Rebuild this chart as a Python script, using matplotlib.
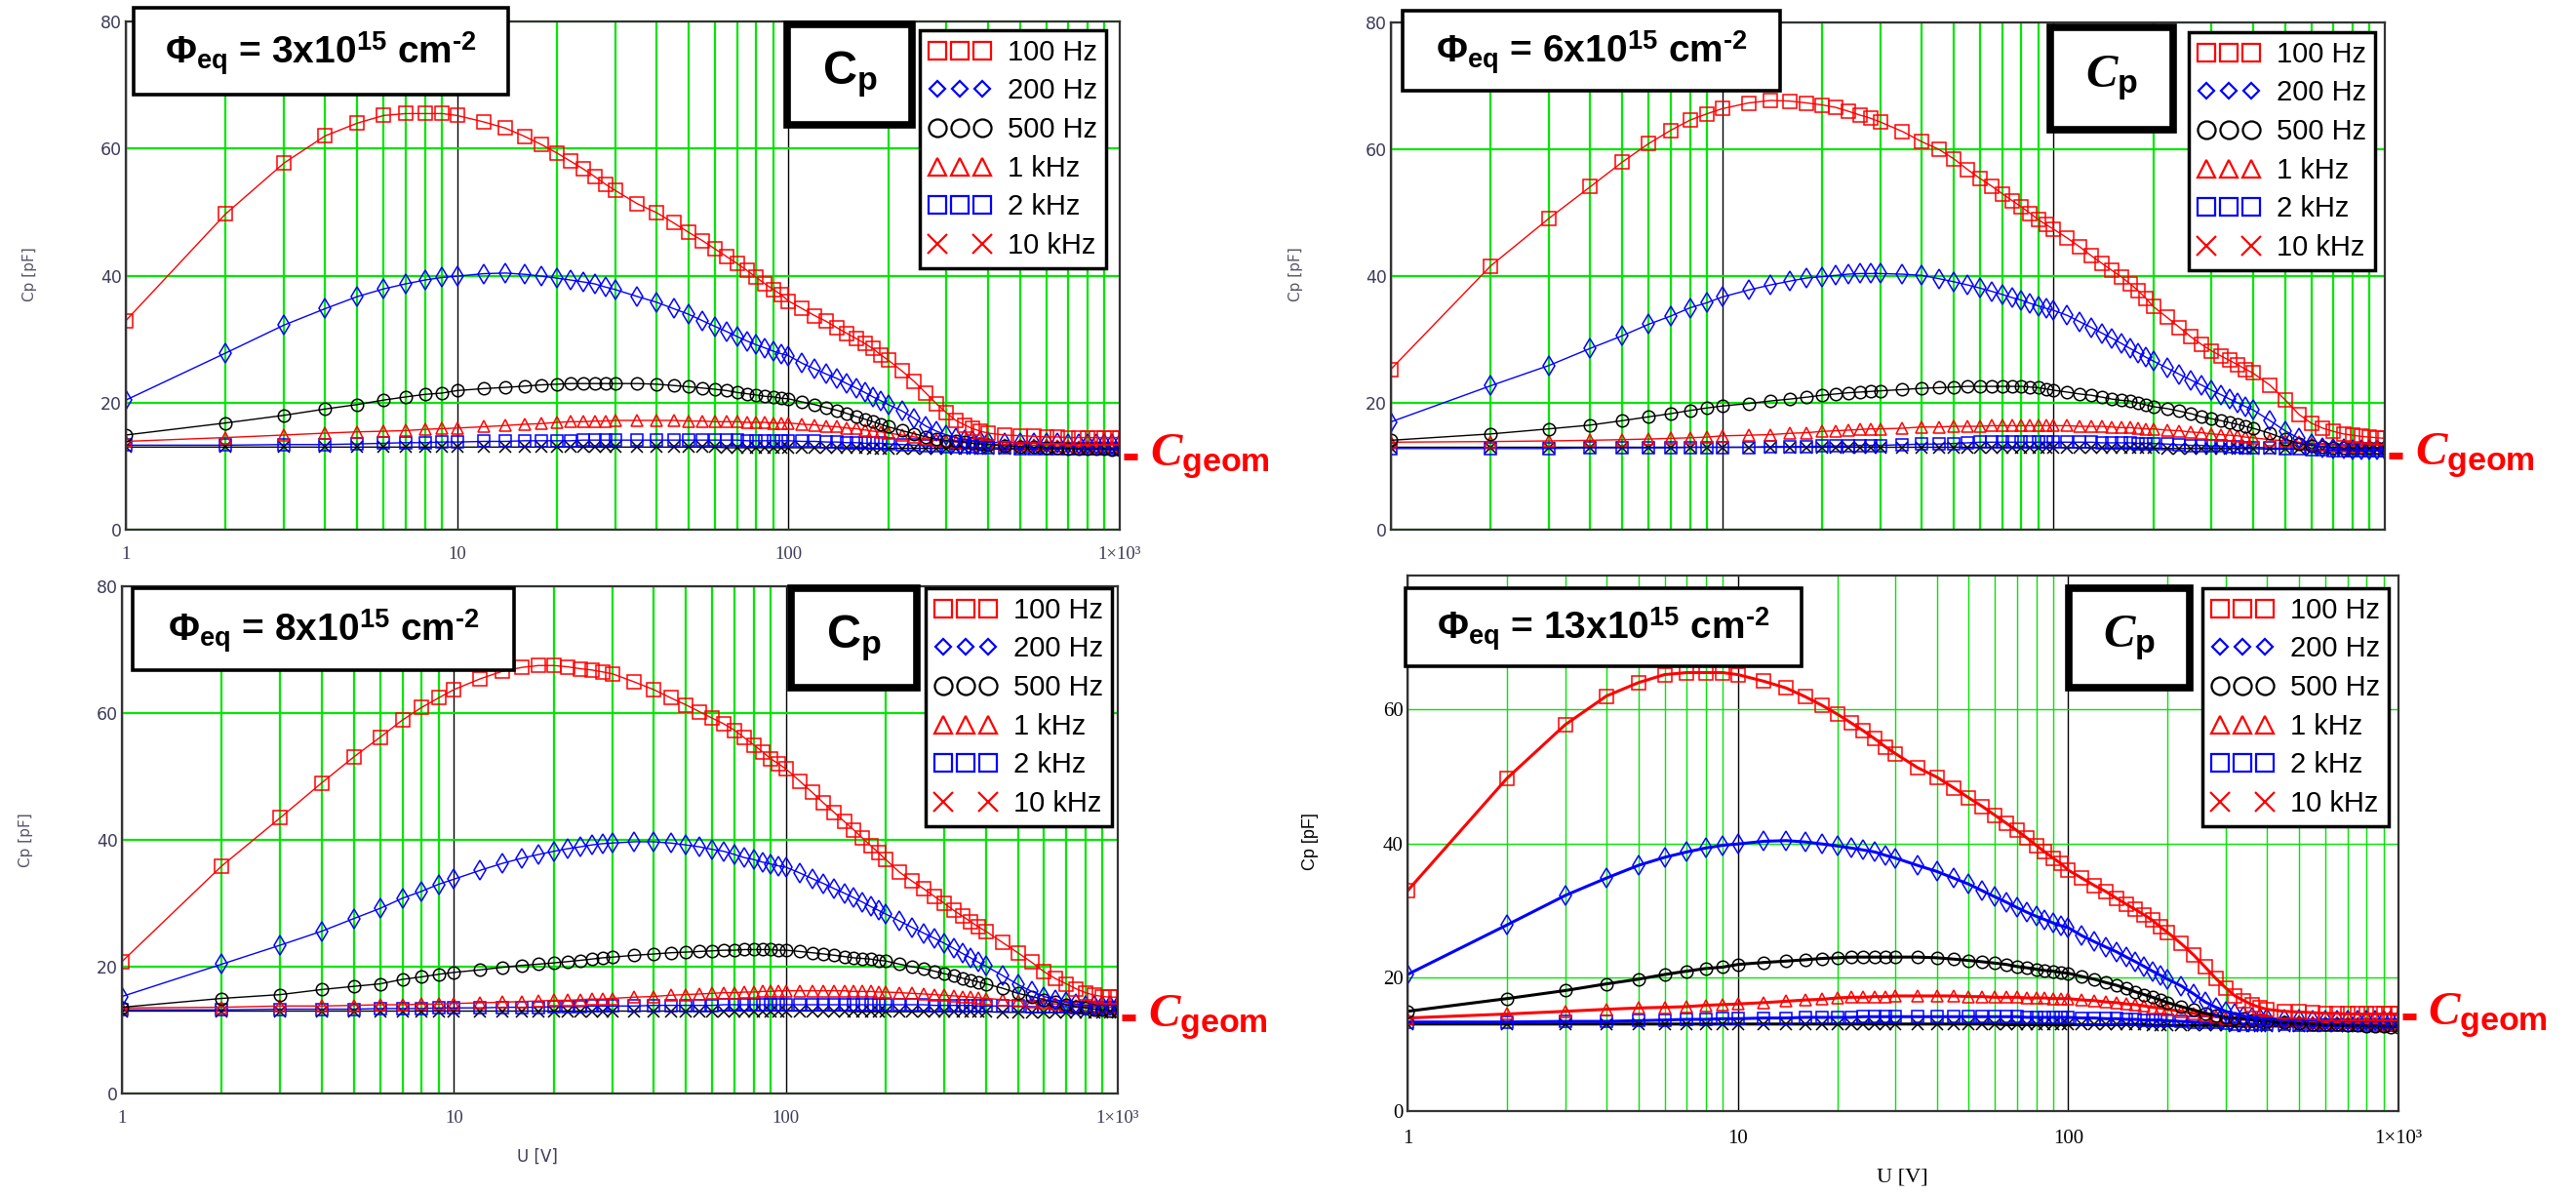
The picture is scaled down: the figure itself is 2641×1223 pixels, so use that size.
import matplotlib
matplotlib.use('Agg')
import matplotlib.pyplot as plt
import matplotlib.transforms as mtransforms
from matplotlib.lines import Line2D
from matplotlib.patches import Rectangle
from matplotlib.ticker import LogLocator, NullFormatter
from matplotlib.legend_handler import HandlerLine2D

plt.rcParams['mathtext.fontset'] = 'custom'
plt.rcParams['mathtext.rm'] = 'Liberation Sans'
plt.rcParams['mathtext.bf'] = 'Liberation Sans:bold'
plt.rcParams['mathtext.it'] = 'Liberation Serif:italic:bold'

# bias voltage [V]
U = [1, 2, 3, 4, 5, 6, 7, 8, 9, 10,
     12, 14, 16, 18, 20, 22, 24, 26, 28, 30,
     35, 40, 45, 50, 55, 60, 65, 70, 75, 80, 85, 90, 95, 100,
     110, 120, 130, 140, 150, 160, 170, 180, 190, 200,
     220, 240, 260, 280, 300, 320, 340, 360, 380, 400,
     450, 500, 550, 600, 650, 700, 750, 800, 850, 900, 950, 1000]

freqs = ['100 Hz', '200 Hz', '500 Hz', '1 kHz', '2 kHz', '10 kHz']

# Cp [pF], phi = 3e15 (same curves are shown again for 13e15)
a_100 = [32.9, 49.7, 57.7, 62.0, 64.0, 65.2, 65.5, 65.5, 65.5, 65.2,
         64.2, 63.2, 61.9, 60.6, 59.3, 58.0, 56.8, 55.6, 54.4, 53.4,
         51.3, 49.9, 48.3, 46.8, 45.5, 44.2, 43.0, 41.9, 40.8, 39.7, 38.7, 37.8, 37.0, 36.0,
         34.8, 33.7, 32.8, 31.8, 30.9, 30.1, 29.3, 28.5, 27.5, 26.7,
         25.0, 23.3, 21.5, 19.8, 18.4, 17.2, 16.5, 15.9, 15.5, 15.2,
         14.9, 14.8, 14.7, 14.6, 14.6, 14.5, 14.5, 14.5, 14.5, 14.5, 14.5, 14.5]
a_200 = [20.4, 27.8, 32.2, 34.8, 36.7, 37.9, 38.7, 39.3, 39.7, 39.9,
         40.3, 40.4, 40.2, 39.9, 39.6, 39.3, 39.0, 38.7, 38.2, 37.8,
         36.7, 35.8, 34.8, 33.9, 32.9, 32.0, 31.2, 30.4, 29.7, 29.1, 28.6, 28.1, 27.7, 27.4,
         26.2, 25.3, 24.5, 23.8, 23.0, 22.3, 21.6, 20.9, 20.3, 19.7,
         18.7, 17.5, 16.3, 15.5, 14.9, 14.5, 14.2, 14.0, 13.9, 13.8,
         13.7, 13.7, 13.6, 13.6, 13.6, 13.5, 13.5, 13.5, 13.5, 13.5, 13.5, 13.5]
a_500 = [14.9, 16.8, 18.0, 19.0, 19.7, 20.4, 20.9, 21.3, 21.5, 21.9,
         22.2, 22.4, 22.6, 22.8, 22.9, 23.0, 23.0, 23.0, 23.0, 23.0,
         23.0, 22.9, 22.7, 22.5, 22.3, 22.1, 21.9, 21.6, 21.4, 21.2, 21.0, 20.9, 20.7, 20.6,
         20.1, 19.7, 19.2, 18.8, 18.3, 17.8, 17.4, 17.0, 16.6, 16.2,
         15.6, 15.1, 14.6, 14.3, 14.0, 13.9, 13.8, 13.6, 13.5, 13.4,
         13.2, 13.1, 13.0, 12.9, 12.9, 12.8, 12.8, 12.7, 12.7, 12.7, 12.6, 12.6]
a_1k = [13.9, 14.5, 14.9, 15.2, 15.4, 15.5, 15.6, 15.8, 15.9, 16.0,
        16.2, 16.4, 16.6, 16.7, 16.9, 17.0, 17.0, 17.1, 17.1, 17.2,
        17.2, 17.2, 17.2, 17.1, 17.1, 17.0, 17.0, 17.0, 16.9, 16.9, 16.9, 16.8, 16.8, 16.8,
        16.6, 16.5, 16.3, 16.2, 16.0, 15.9, 15.7, 15.5, 15.4, 15.2,
        14.9, 14.6, 14.3, 14.1, 13.9, 13.8, 13.7, 13.6, 13.5, 13.5,
        13.4, 13.4, 13.3, 13.3, 13.2, 13.2, 13.1, 13.1, 13.1, 13.0, 13.0, 13.0]
a_2k = [13.3, 13.3, 13.4, 13.4, 13.5, 13.6, 13.7, 13.7, 13.8, 13.8,
        13.9, 13.9, 14.0, 14.0, 14.0, 14.0, 14.1, 14.1, 14.1, 14.1,
        14.1, 14.1, 14.1, 14.1, 14.1, 14.1, 14.1, 14.1, 14.0, 14.0, 14.0, 14.0, 14.0, 14.0,
        13.9, 13.9, 13.8, 13.8, 13.7, 13.7, 13.6, 13.6, 13.6, 13.5,
        13.4, 13.3, 13.2, 13.2, 13.1, 13.0, 13.0, 13.0, 12.9, 12.9,
        12.9, 12.8, 12.8, 12.8, 12.8, 12.8, 12.8, 12.8, 12.8, 12.8, 12.8, 12.8]
a_10k = [13.0, 13.0, 13.0, 13.0, 13.0, 13.0, 13.0, 13.0, 13.0, 13.0,
         13.0, 13.0, 13.0, 13.0, 13.0, 13.0, 13.0, 13.0, 13.0, 13.0,
         13.0, 13.0, 13.0, 13.0, 13.0, 13.0, 12.9, 12.9, 12.9, 12.9, 12.9, 12.9, 12.9, 12.9,
         12.9, 12.9, 12.9, 12.9, 12.9, 12.9, 12.9, 12.8, 12.8, 12.8,
         12.8, 12.8, 12.8, 12.8, 12.8, 12.7, 12.7, 12.7, 12.7, 12.7,
         12.7, 12.7, 12.7, 12.7, 12.7, 12.7, 12.7, 12.7, 12.7, 12.7, 12.7, 12.7]

# phi = 6e15
b_100 = [25.3, 41.6, 49.1, 54.1, 58.0, 60.9, 63.0, 64.6, 65.6, 66.4,
         67.3, 67.7, 67.6, 67.3, 67.0, 66.6, 66.0, 65.4, 64.9, 64.3,
         62.8, 61.2, 60.0, 58.5, 56.8, 55.4, 54.2, 53.0, 51.9, 50.9, 49.9, 48.9, 48.1, 47.4,
         46.0, 44.6, 43.2, 42.0, 40.9, 39.9, 38.8, 37.7, 36.5, 35.2,
         33.5, 31.9, 30.4, 29.2, 28.2, 27.4, 26.7, 26.0, 25.3, 24.7,
         22.8, 20.5, 18.2, 16.8, 16.0, 15.5, 15.1, 14.9, 14.7, 14.6, 14.5, 14.4]
b_200 = [17.0, 22.7, 25.9, 28.6, 30.6, 32.4, 33.7, 35.0, 35.8, 36.7,
         37.8, 38.6, 39.2, 39.7, 39.9, 40.1, 40.3, 40.4, 40.4, 40.4,
         40.3, 40.1, 39.6, 39.1, 38.6, 38.1, 37.6, 37.1, 36.6, 36.2, 35.7, 35.3, 34.9, 34.6,
         33.8, 32.8, 31.9, 31.0, 30.2, 29.4, 28.6, 27.9, 27.2, 26.6,
         25.5, 24.5, 23.6, 22.8, 22.0, 21.3, 20.6, 20.0, 19.4, 18.9,
         17.2, 15.6, 14.4, 13.5, 13.0, 12.8, 12.7, 12.6, 12.6, 12.6, 12.6, 12.6]
b_500 = [14.1, 15.1, 15.9, 16.5, 17.2, 17.8, 18.3, 18.8, 19.2, 19.5,
         19.9, 20.3, 20.6, 20.9, 21.2, 21.4, 21.6, 21.7, 21.8, 21.9,
         22.1, 22.3, 22.4, 22.5, 22.6, 22.6, 22.6, 22.6, 22.6, 22.6, 22.5, 22.4, 22.2, 22.0,
         21.7, 21.4, 21.2, 20.9, 20.6, 20.4, 20.3, 20.0, 19.7, 19.4,
         19.1, 18.7, 18.3, 17.8, 17.5, 17.2, 16.9, 16.6, 16.3, 16.0,
         15.2, 14.3, 13.6, 13.3, 13.1, 13.0, 12.9, 12.9, 12.9, 12.9, 12.9, 12.9]
b_1k = [13.8, 13.9, 14.0, 14.1, 14.2, 14.3, 14.4, 14.5, 14.6, 14.8,
        14.9, 15.0, 15.2, 15.3, 15.5, 15.6, 15.7, 15.8, 15.9, 15.9,
        16.0, 16.2, 16.2, 16.3, 16.3, 16.3, 16.4, 16.4, 16.4, 16.4, 16.4, 16.4, 16.4, 16.4,
        16.4, 16.3, 16.3, 16.3, 16.2, 16.1, 16.1, 16.0, 15.9, 15.9,
        15.7, 15.6, 15.4, 15.3, 15.1, 15.0, 14.9, 14.8, 14.6, 14.5,
        14.2, 14.0, 13.8, 13.5, 13.4, 13.3, 13.2, 13.1, 13.1, 13.0, 13.0, 13.0]
b_2k = [12.8, 12.8, 12.8, 12.9, 12.9, 12.9, 12.9, 13.0, 13.0, 13.0,
        13.0, 13.1, 13.1, 13.1, 13.2, 13.2, 13.2, 13.3, 13.3, 13.3,
        13.4, 13.5, 13.5, 13.6, 13.7, 13.8, 13.8, 13.8, 13.8, 13.8, 13.8, 13.8, 13.8, 13.8,
        13.8, 13.8, 13.8, 13.7, 13.7, 13.7, 13.7, 13.6, 13.6, 13.6,
        13.5, 13.4, 13.3, 13.3, 13.2, 13.2, 13.1, 13.1, 13.0, 13.0,
        12.9, 12.8, 12.7, 12.6, 12.6, 12.5, 12.5, 12.5, 12.4, 12.4, 12.4, 12.4]
b_10k = [13.0, 13.0, 13.0, 13.0, 13.0, 13.0, 13.0, 13.0, 13.0, 13.0,
         13.0, 13.0, 13.0, 13.0, 13.0, 13.0, 13.0, 13.0, 13.0, 13.0,
         13.0, 13.0, 13.0, 13.0, 13.0, 13.0, 13.0, 13.0, 13.0, 13.0, 13.0, 13.0, 13.0, 13.0,
         12.9, 12.9, 12.9, 12.9, 12.9, 12.9, 12.9, 12.9, 12.9, 12.9,
         12.8, 12.8, 12.8, 12.8, 12.8, 12.8, 12.8, 12.8, 12.8, 12.8,
         12.7, 12.7, 12.7, 12.6, 12.6, 12.6, 12.6, 12.6, 12.6, 12.6, 12.6, 12.6]

# phi = 8e15
c_100 = [20.8, 35.9, 43.5, 49.0, 53.1, 56.2, 58.9, 60.9, 62.4, 63.7,
         65.4, 66.6, 67.2, 67.5, 67.5, 67.3, 67.0, 66.8, 66.5, 66.2,
         64.9, 63.7, 62.4, 61.3, 60.2, 59.2, 58.3, 57.3, 56.1, 55.0, 53.9, 52.8, 52.0, 51.2,
         49.3, 47.5, 45.8, 44.3, 42.9, 41.6, 40.3, 39.1, 38.0, 36.9,
         34.9, 33.5, 32.3, 31.1, 30.0, 28.9, 28.0, 27.1, 26.3, 25.6,
         23.8, 22.2, 20.7, 19.2, 18.1, 17.3, 16.5, 15.9, 15.5, 15.3, 15.2, 15.2]
c_200 = [15.3, 20.4, 23.4, 25.6, 27.6, 29.2, 30.8, 31.9, 33.0, 33.8,
         35.2, 36.3, 37.1, 37.7, 38.2, 38.6, 38.9, 39.2, 39.4, 39.5,
         39.7, 39.7, 39.5, 39.2, 38.9, 38.5, 38.2, 37.7, 37.2, 36.9, 36.5, 36.2, 35.9, 35.7,
         34.8, 33.9, 33.1, 32.3, 31.6, 30.9, 30.2, 29.5, 28.9, 28.3,
         27.2, 26.2, 25.3, 24.5, 23.7, 22.9, 22.1, 21.4, 20.7, 20.1,
         18.6, 17.2, 16.1, 15.3, 14.8, 14.4, 14.1, 13.9, 13.9, 13.9, 13.9, 13.9]
c_500 = [13.6, 15.0, 15.6, 16.4, 16.9, 17.3, 18.0, 18.4, 18.8, 19.1,
         19.5, 19.9, 20.2, 20.4, 20.6, 20.8, 21.0, 21.2, 21.4, 21.5,
         21.8, 22.0, 22.2, 22.3, 22.4, 22.5, 22.6, 22.6, 22.7, 22.7, 22.7, 22.7, 22.6, 22.6,
         22.4, 22.2, 22.0, 21.8, 21.6, 21.4, 21.3, 21.2, 21.0, 20.9,
         20.4, 20.0, 19.7, 19.3, 18.9, 18.6, 18.2, 17.9, 17.6, 17.3,
         16.6, 15.8, 15.3, 14.8, 14.4, 14.0, 13.7, 13.5, 13.3, 13.2, 13.1, 13.1]
c_1k = [13.5, 13.6, 13.8, 13.8, 13.9, 14.0, 14.0, 14.1, 14.1, 14.2,
        14.3, 14.4, 14.5, 14.6, 14.7, 14.7, 14.8, 14.9, 14.9, 15.0,
        15.2, 15.3, 15.5, 15.6, 15.7, 15.8, 15.9, 15.9, 16.0, 16.0, 16.1, 16.1, 16.2, 16.2,
        16.2, 16.2, 16.2, 16.2, 16.2, 16.1, 16.1, 16.1, 16.0, 16.0,
        15.9, 15.8, 15.7, 15.6, 15.5, 15.4, 15.3, 15.2, 15.1, 15.0,
        14.8, 14.6, 14.4, 14.3, 14.1, 14.0, 13.9, 13.8, 13.7, 13.6, 13.6, 13.5]
c_2k = [13.2, 13.2, 13.3, 13.3, 13.3, 13.4, 13.4, 13.4, 13.5, 13.5,
        13.5, 13.6, 13.6, 13.6, 13.7, 13.7, 13.7, 13.8, 13.8, 13.8,
        13.8, 13.9, 13.9, 13.9, 13.9, 13.9, 14.0, 14.0, 14.0, 14.0, 14.0, 14.0, 14.0, 14.0,
        14.0, 14.0, 14.0, 14.0, 14.0, 14.0, 14.0, 14.0, 14.0, 14.0,
        14.0, 14.0, 14.0, 13.9, 13.9, 13.9, 13.9, 13.9, 13.8, 13.8,
        13.8, 13.8, 13.7, 13.7, 13.7, 13.7, 13.6, 13.6, 13.6, 13.6, 13.6, 13.6]
c_10k = [13.0, 13.0, 13.0, 13.0, 13.0, 13.0, 13.0, 13.0, 13.0, 13.0,
         13.0, 13.0, 13.0, 13.0, 13.0, 13.0, 13.0, 13.0, 13.0, 13.0,
         13.0, 13.0, 13.0, 13.0, 13.0, 13.0, 13.0, 13.0, 13.0, 13.0, 13.0, 13.0, 13.0, 13.0,
         13.0, 13.0, 13.0, 13.0, 13.0, 12.9, 12.9, 12.9, 12.9, 12.9,
         12.9, 12.9, 12.9, 12.9, 12.9, 12.9, 12.9, 12.9, 12.9, 12.9,
         12.8, 12.8, 12.8, 12.8, 12.8, 12.8, 12.8, 12.8, 12.8, 12.8, 12.8, 12.8]

phi_labels = ['3', '6', '8', '13']
cgeom_level = [11.5, 11.7, 12.0, 14.2]

W, H = 2641, 1223
fig = plt.figure(figsize=(W / 100, H / 100), dpi=100)
fig.patch.set_facecolor('white')

GREEN = '#00e600'
TICKC = '#3c3c5a'
markers = ['s', 'd', 'o', '^', 's', 'x']
legmarkers = ['s', 'D', 'o', '^', 's', 'x']
legsizes = [13, 8.5, 13, 13, 13, 14]
mcolors = ['red', 'blue', 'black', 'red', 'blue', 'black']
legcolors = ['red', 'blue', 'black', 'red', 'blue', 'red']
msizes = [10, 10, 9, 9, 9, 9]


class TwoMarkers(HandlerLine2D):
    # "X  X" legend entry: outer two of three marker slots
    def create_artists(self, *args, **kwargs):
        arts = super().create_artists(*args, **kwargs)
        for a in arts:
            a.set_markevery([0, 2])
        return arts


def fx(x):
    return x / W


def fy(y):
    return 1 - y / H


def box(l, t, r, b, lw):
    fig.add_artist(Rectangle((fx(l), fy(b)), (r - l) / W, (b - t) / H,
                             transform=fig.transFigure, facecolor='white',
                             edgecolor='black', lw=lw, zorder=5))


# pixel layout of each panel: axes, phi box, Cp box, legend corner
panels = [
    dict(axes=(129, 22, 1148, 543), phibox=(137, 8, 521, 97), cpbox=(807, 25, 935, 128),
         leg=(943, 31), ylab=(31, 281), xlab=None, xticks=True, mathcad=True),
    dict(axes=(1426, 23, 2445, 543), phibox=(1438, 11, 1825, 93), cpbox=(2102, 28, 2228, 133),
         leg=(2244, 33), ylab=(1328, 281), xlab=None, xticks=False, mathcad=True),
    dict(axes=(125, 601, 1146, 1121), phibox=(136, 603, 527, 687), cpbox=(811, 603, 940, 705),
         leg=(949, 603), ylab=(27, 861), xlab=(551, 1186), xticks=True, mathcad=True),
    dict(axes=(1443, 590, 2459, 1139), phibox=(1441, 603, 1847, 683), cpbox=(2121, 603, 2245, 705),
         leg=(2258, 603), ylab=(1343, 863), xlab=(1950, 1207), xticks=True, mathcad=False),
]
series = [
    [a_100, a_200, a_500, a_1k, a_2k, a_10k],
    [b_100, b_200, b_500, b_1k, b_2k, b_10k],
    [c_100, c_200, c_500, c_1k, c_2k, c_10k],
    [a_100, a_200, a_500, a_1k, a_2k, a_10k],
]

for i, p in enumerate(panels):
    l, t, r, b = p['axes']
    ax = fig.add_axes([fx(l), fy(b), (r - l) / W, (b - t) / H])
    mc = p['mathcad']
    ax.set_xscale('log')
    ax.set_xlim(1, 1000)
    ax.set_ylim(0, 80)
    ax.xaxis.set_minor_locator(LogLocator(base=10, subs=range(2, 10)))
    ax.xaxis.set_minor_formatter(NullFormatter())
    ax.grid(which='minor', axis='x', color=GREEN, lw=1.6 if mc else 1.0)
    ax.grid(which='major', axis='x', color='black', lw=1.0)
    ax.grid(which='major', axis='y', color=GREEN, lw=1.6 if mc else 1.0)
    for s in ax.spines.values():
        s.set_color('#333333')
        s.set_linewidth(1.6)
    ax.tick_params(which='both', length=0)

    data = series[i]
    for k in range(5, -1, -1):
        ax.plot(U, data[k], color=mcolors[k], lw=1.0 if mc else 2.2,
                marker=markers[k], ms=msizes[k], mfc='none', mec=mcolors[k], mew=1.1)

    ax.set_xticks([1, 10, 100, 1000])
    if mc:
        ax.set_yticks([0, 20, 40, 60, 80])
        ax.set_yticklabels(['0', '20', '40', '60', '80'], fontfamily='DejaVu Sans',
                           fontsize=12.5, color=TICKC)
        ax.set_xticklabels(['1', '10', '100', '1×10³'], fontfamily='Liberation Serif',
                           fontsize=13.5, color=TICKC)
        ax.tick_params(axis='x', pad=12)
        ax.tick_params(axis='y', pad=3)
    else:
        ax.set_yticks([0, 20, 40, 60])
        ax.set_yticklabels(['0', '20', '40', '60'], fontfamily='Liberation Serif',
                           fontsize=15, color='black')
        ax.set_xticklabels(['1', '10', '100', '1×10³'], fontfamily='Liberation Serif',
                           fontsize=15, color='black')
        ax.tick_params(axis='x', pad=14)
        ax.tick_params(axis='y', pad=3)
    if not p['xticks']:
        ax.set_xticklabels([])

    # axis labels
    yx, yy = p['ylab']
    if mc:
        fig.text(fx(yx), fy(yy), 'Cp [pF]', rotation=90, ha='center', va='center',
                 fontfamily='DejaVu Sans', fontsize=11, color='#555566')
    else:
        fig.text(fx(yx), fy(yy), 'Cp [pF]', rotation=90, ha='center', va='center',
                 fontfamily='Liberation Sans', fontsize=13, color='black')
    if p['xlab'] is not None:
        xx, xy = p['xlab']
        if mc:
            fig.text(fx(xx), fy(xy), 'U [V]', ha='center', va='center',
                     fontfamily='DejaVu Sans', fontsize=12, color=TICKC)
        else:
            fig.text(fx(xx), fy(xy), 'U [V]', ha='center', va='center',
                     fontfamily='Liberation Serif', fontsize=16, color='black')

    # fluence box
    pl, pt, pr, pb = p['phibox']
    box(pl, pt, pr, pb, 2.6)
    fig.text(fx((pl + pr) / 2), fy((pt + pb) / 2 + 2),
             'Φ$_\\mathbf{eq}$ = ' + phi_labels[i] + 'x10$^\\mathbf{15}$ cm$^\\mathbf{\u20102}$',
             ha='center', va='center', fontsize=28, fontweight='bold',
             fontfamily='Liberation Sans', zorder=6)

    # Cp box
    cl, ct, cr, cb = p['cpbox']
    box(cl, ct, cr, cb, 5.5)
    if i in (0, 2):
        cp_txt = 'C$_\\mathbf{p}$'
    else:
        cp_txt = '$\\mathit{C}_\\mathbf{p}$'
    fig.text(fx((cl + cr) / 2), fy((ct + cb) / 2), cp_txt, ha='center', va='center',
             fontsize=35, fontweight='bold', fontfamily='Liberation Sans', zorder=6)

    # legend
    handles = []
    for k in range(6):
        handles.append(Line2D([0], [0], ls='none', marker=legmarkers[k], ms=legsizes[k],
                              mfc='none', mec=legcolors[k], mew=1.6))
    lx, ly = p['leg']
    leg = ax.legend(handles, freqs, loc='upper left', bbox_to_anchor=(fx(lx), fy(ly)),
                    bbox_transform=fig.transFigure, borderaxespad=0, numpoints=3,
                    handlelength=2.2, handletextpad=0.6, labelspacing=0.4,
                    borderpad=0.3, fancybox=False, framealpha=1, edgecolor='black',
                    prop={'family': 'Liberation Sans', 'size': 21},
                    handler_map={handles[5]: TwoMarkers()})
    leg.get_frame().set_linewidth(2.5)
    leg.set_zorder(10)

    # C_geom marker right of the axes
    tr = mtransforms.blended_transform_factory(ax.transAxes, ax.transData)
    ax.plot([1.004, 1.018], [cgeom_level[i]] * 2, transform=tr, color='red',
            lw=5, solid_capstyle='butt', clip_on=False)
    ax.text(1.03, cgeom_level[i], '$\\mathit{C}_\\mathbf{geom}$', transform=tr,
            color='red', fontsize=35, va='center', ha='left', clip_on=False)

fig.savefig('out.png', dpi=100)
